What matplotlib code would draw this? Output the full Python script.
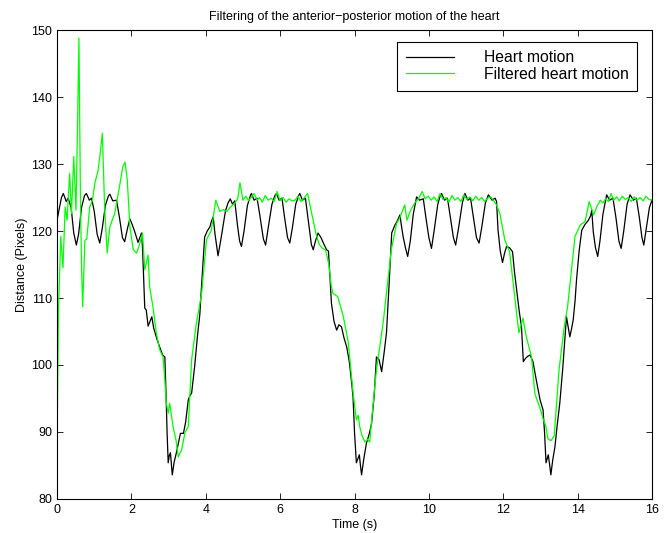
import matplotlib
matplotlib.use("Agg")
import matplotlib.pyplot as plt

plt.rcParams['font.family'] = ['Liberation Sans', 'DejaVu Sans']

# heart motion (black): time (s), distance (pixels)
heart_t = [0.0, 0.05, 0.12, 0.17, 0.25, 0.3, 0.38, 0.45, 0.52, 0.58, 0.66, 0.74, 0.79, 0.87, 0.93,
           1.0, 1.08, 1.15, 1.22, 1.3, 1.38, 1.42, 1.5, 1.6, 1.68, 1.76, 1.82, 1.9, 1.96, 2.02,
           2.09, 2.18, 2.24, 2.27, 2.3, 2.33, 2.36, 2.4, 2.45, 2.5, 2.55, 2.6, 2.68, 2.76, 2.84,
           2.9, 2.93, 2.96, 2.99, 3.02, 3.05, 3.08, 3.1, 3.15, 3.21, 3.27, 3.32, 3.4, 3.46, 3.53,
           3.58, 3.62, 3.7, 3.78, 3.84, 3.88, 3.93, 3.97, 4.04, 4.11, 4.15, 4.2, 4.25, 4.33, 4.4,
           4.47, 4.53, 4.6, 4.66, 4.72, 4.78, 4.85, 4.91, 4.96, 5.03, 5.12, 5.2, 5.23, 5.3, 5.38,
           5.45, 5.55, 5.61, 5.68, 5.78, 5.86, 5.9, 5.97, 6.05, 6.12, 6.2, 6.26, 6.33, 6.42, 6.5,
           6.53, 6.6, 6.68, 6.76, 6.84, 6.89, 6.95, 7.02, 7.1, 7.18, 7.25, 7.3, 7.34, 7.38, 7.45,
           7.52, 7.58, 7.65, 7.72, 7.79, 7.86, 7.92, 7.96, 8.0, 8.05, 8.09, 8.13, 8.16, 8.19, 8.25,
           8.32, 8.4, 8.46, 8.53, 8.59, 8.66, 8.73, 8.8, 8.86, 8.93, 9.0, 9.08, 9.15, 9.22, 9.27,
           9.31, 9.37, 9.43, 9.5, 9.58, 9.67, 9.75, 9.85, 9.92, 10.0, 10.07, 10.14, 10.24, 10.3, 10.34,
           10.42, 10.5, 10.58, 10.66, 10.72, 10.8, 10.9, 10.97, 11.05, 11.12, 11.2, 11.28, 11.35, 11.42, 11.52,
           11.6, 11.7, 11.78, 11.82, 11.86, 11.92, 11.98, 12.04, 12.09, 12.17, 12.25, 12.3, 12.36, 12.43, 12.49,
           12.54, 12.6, 12.66, 12.72, 12.8, 12.88, 12.95, 12.99, 13.07, 13.11, 13.15, 13.18, 13.21, 13.25, 13.28,
           13.33, 13.39, 13.45, 13.52, 13.6, 13.7, 13.75, 13.79, 13.84, 13.88, 13.93, 13.97, 14.04, 14.11, 14.2,
           14.29, 14.35, 14.38, 14.42, 14.48, 14.54, 14.6, 14.68, 14.78, 14.86, 14.95, 15.03, 15.11, 15.17, 15.24,
           15.33, 15.41, 15.5, 15.58, 15.66, 15.73, 15.78, 15.85, 15.93, 16.0]
heart_d = [121.6, 123.0, 125.0, 125.6, 124.4, 124.9, 123.5, 119.7, 117.9, 119.5, 123.5, 125.3, 125.6, 124.6, 124.9,
           123.0, 119.5, 118.2, 120.5, 123.8, 125.2, 125.5, 124.5, 124.6, 122.0, 119.0, 118.4, 120.5, 121.8, 121.0,
           119.9, 118.3, 119.2, 119.7, 117.5, 113.0, 108.5, 108.2, 105.8, 106.5, 107.2, 105.5, 104.0, 102.7, 101.5,
           101.2, 96.0, 90.0, 85.4, 86.5, 86.9, 85.0, 83.6, 85.5, 86.9, 88.5, 89.8, 89.8, 91.5, 94.8,
           95.5, 95.8, 99.7, 104.5, 107.5, 111.2, 115.5, 119.1, 120.0, 120.6, 121.4, 122.1, 119.5, 116.3, 118.5,
           120.9, 123.0, 124.2, 124.8, 124.0, 124.5, 121.0, 118.5, 117.7, 120.0, 123.8, 125.3, 125.6, 124.6, 124.9,
           122.5, 118.8, 117.9, 120.5, 124.0, 125.3, 125.6, 124.6, 124.9, 122.0, 119.0, 118.2, 120.5, 124.0, 125.3,
           125.6, 124.6, 124.9, 121.5, 118.0, 117.2, 118.5, 119.7, 119.0, 118.0, 117.2, 117.0, 113.0, 109.2, 106.5,
           105.2, 106.0, 105.7, 104.0, 102.7, 100.5, 97.5, 95.3, 90.0, 85.4, 86.0, 86.6, 85.0, 83.6, 86.0,
           88.3, 89.8, 91.3, 95.5, 101.2, 100.8, 99.0, 102.0, 104.8, 112.0, 119.7, 120.8, 121.5, 122.4, 120.5,
           119.1, 117.5, 116.2, 118.5, 122.5, 125.1, 124.6, 124.8, 122.0, 119.0, 117.4, 120.0, 124.0, 125.2, 125.6,
           124.6, 124.9, 122.0, 119.0, 117.9, 120.5, 124.2, 125.6, 124.6, 124.9, 122.0, 119.0, 118.2, 120.5, 124.2,
           125.4, 124.6, 124.9, 124.4, 120.1, 117.0, 115.3, 116.8, 117.7, 117.5, 116.9, 114.0, 111.2, 108.0, 105.7,
           100.5, 101.0, 101.3, 101.5, 100.5, 98.0, 96.0, 94.8, 93.3, 90.0, 85.4, 86.0, 86.6, 85.0, 83.6,
           85.8, 87.8, 91.0, 94.3, 99.5, 107.2, 105.5, 104.2, 105.5, 106.7, 109.5, 112.7, 117.0, 120.1, 121.0,
           121.6, 122.3, 123.1, 119.9, 117.5, 116.2, 118.5, 122.5, 125.4, 124.6, 124.9, 122.0, 118.5, 117.4, 120.0,
           124.0, 125.4, 124.6, 124.9, 122.0, 119.0, 117.9, 120.5, 123.5, 124.6]

# filtered heart motion (green)
filt_t = [0.0, 0.04, 0.1, 0.16, 0.22, 0.27, 0.34, 0.39, 0.45, 0.51, 0.55, 0.59, 0.63, 0.66, 0.69,
          0.75, 0.8, 0.88, 0.95, 1.02, 1.1, 1.16, 1.22, 1.28, 1.35, 1.42, 1.55, 1.68, 1.77, 1.83,
          1.89, 1.96, 2.05, 2.14, 2.23, 2.3, 2.36, 2.45, 2.49, 2.58, 2.67, 2.76, 2.85, 2.9, 2.94,
          2.99, 3.03, 3.12, 3.2, 3.26, 3.35, 3.44, 3.53, 3.62, 3.75, 3.89, 4.02, 4.15, 4.27, 4.38,
          4.47, 4.56, 4.67, 4.78, 4.86, 4.92, 5.0, 5.08, 5.15, 5.22, 5.3, 5.38, 5.45, 5.52, 5.6,
          5.68, 5.76, 5.84, 5.92, 6.0, 6.08, 6.16, 6.24, 6.32, 6.4, 6.48, 6.56, 6.64, 6.74, 6.83,
          6.96, 7.05, 7.14, 7.22, 7.31, 7.37, 7.42, 7.55, 7.7, 7.83, 7.96, 8.05, 8.1, 8.14, 8.2,
          8.28, 8.35, 8.41, 8.48, 8.59, 8.77, 8.99, 9.13, 9.22, 9.35, 9.41, 9.5, 9.62, 9.72, 9.82,
          9.9, 9.98, 10.06, 10.14, 10.22, 10.3, 10.38, 10.46, 10.54, 10.62, 10.7, 10.78, 10.86, 10.94, 11.02,
          11.1, 11.18, 11.26, 11.34, 11.42, 11.5, 11.58, 11.66, 11.73, 11.82, 11.91, 12.04, 12.17, 12.31, 12.42,
          12.53, 12.62, 12.76, 12.85, 12.98, 13.08, 13.14, 13.2, 13.28, 13.37, 13.5, 13.64, 13.73, 13.93, 14.07,
          14.2, 14.31, 14.43, 14.53, 14.61, 14.68, 14.75, 14.83, 14.9, 14.97, 15.05, 15.12, 15.2, 15.28, 15.36,
          15.44, 15.52, 15.6, 15.68, 15.76, 15.84, 15.92, 16.0]
filt_d = [87.3, 108.0, 119.2, 114.5, 123.6, 121.6, 128.6, 122.6, 131.1, 123.1, 135.0, 148.8, 125.0, 114.7, 108.7,
          118.6, 118.8, 123.6, 124.5, 127.2, 128.9, 131.5, 134.6, 123.6, 116.7, 120.6, 122.6, 126.6, 129.6, 130.3,
          127.6, 120.6, 117.2, 116.7, 118.2, 119.7, 114.2, 116.4, 111.7, 108.7, 104.8, 102.3, 101.2, 97.7, 94.3,
          92.8, 94.3, 90.8, 88.8, 86.3, 87.3, 89.9, 90.8, 100.8, 106.3, 110.7, 118.7, 120.1, 124.6, 122.9,
          123.2, 122.9, 123.6, 124.2, 124.8, 127.2, 124.6, 125.2, 124.5, 125.0, 125.6, 124.6, 125.0, 124.3, 125.3,
          124.6, 124.9, 124.4, 125.9, 124.5, 125.0, 124.3, 124.8, 124.5, 124.6, 125.2, 124.4, 124.9, 125.6, 123.1,
          119.7, 118.0, 117.4, 117.2, 115.0, 112.0, 110.7, 110.2, 107.2, 103.5, 96.0, 91.8, 92.5, 90.8, 89.5,
          88.5, 88.9, 88.5, 93.0, 99.3, 106.3, 117.2, 121.1, 122.0, 123.9, 121.6, 123.0, 124.2, 124.8, 125.9,
          124.8, 125.2, 124.6, 125.1, 124.4, 125.6, 124.7, 125.0, 124.3, 125.3, 124.6, 125.0, 124.4, 125.4, 124.7,
          125.1, 124.5, 125.2, 124.6, 125.0, 124.4, 124.9, 125.1, 124.6, 123.9, 122.6, 118.7, 116.9, 110.2, 104.8,
          107.0, 104.2, 101.2, 95.7, 93.7, 91.8, 91.0, 89.0, 88.7, 89.4, 99.3, 105.7, 108.7, 119.2, 120.9,
          121.4, 124.4, 122.4, 123.8, 124.6, 124.2, 124.8, 124.4, 125.6, 124.6, 125.1, 124.5, 125.2, 124.7, 125.0,
          124.4, 125.1, 124.6, 125.0, 124.5, 125.2, 124.7, 124.6]

fig = plt.figure(figsize=(6.69, 5.33), dpi=100)
ax = fig.add_axes([0.0852, 0.0638, 0.8894, 0.8799])

ax.plot(heart_t, heart_d, color='black', linewidth=0.9, label='Heart motion')
ax.plot(filt_t, filt_d, color=(0, 1, 0), linewidth=0.9, label='Filtered heart motion')

ax.set_xlim(0, 16)
ax.set_ylim(80, 150)
ax.set_xticks(range(0, 17, 2))
ax.set_yticks(range(80, 151, 10))
ax.tick_params(direction='in', top=True, right=True, labelsize=9, length=4, width=0.6)
for s in ax.spines.values():
    s.set_linewidth(0.8)

ax.set_title('Filtering of the anterior\u2212posterior motion of the heart', fontsize=9, pad=7)
ax.set_xlabel('Time (s)', fontsize=9, labelpad=2)
ax.set_ylabel('Distance (Pixels)', fontsize=9, labelpad=2)

leg = ax.legend(loc='upper right', bbox_to_anchor=(0.975, 0.975), borderaxespad=0,
                fancybox=False, edgecolor='black', fontsize=11.3, handlelength=3.05,
                handletextpad=1.9, borderpad=0.55, labelspacing=0.1, framealpha=1)
leg.get_frame().set_linewidth(0.8)

fig.savefig('out.png', dpi=100)
